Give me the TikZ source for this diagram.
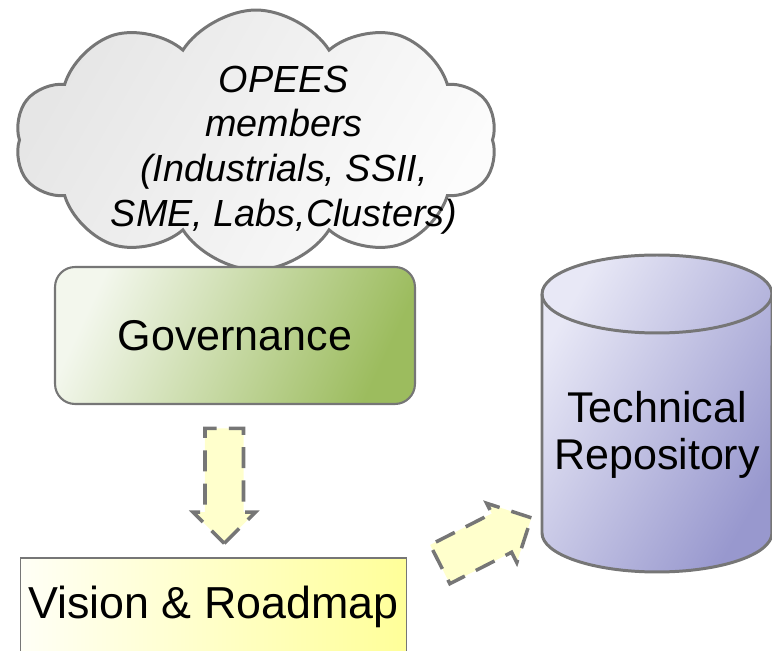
\documentclass[tikz,border=0pt]{standalone}
\usepackage{fontspec}
\setmainfont{Liberation Sans}
\usetikzlibrary{shapes.symbols,shapes.arrows,calc}

\definecolor{edgegrey}{HTML}{767676}
\definecolor{cloudlow}{HTML}{E6E6E6}
\definecolor{cloudhigh}{HTML}{FCFCFC}
\definecolor{govlight}{HTML}{F3F7ED}
\definecolor{govdark}{HTML}{9CBC5E}
\definecolor{visionlight}{HTML}{FFFFF6}
\definecolor{visiondark}{HTML}{FFFF99}
\definecolor{repolight}{HTML}{E8E8F6}
\definecolor{repodark}{HTML}{9898CE}
\definecolor{arrowfill}{HTML}{FFFFCC}

\tikzset{
  bigtext/.style={font=\fontsize{24.5}{27}\selectfont},
  blockarrow/.style={single arrow, draw=edgegrey, fill=arrowfill,
    line width=2pt, dash pattern=on 12pt off 7pt, inner xsep=0pt}
}

\begin{document}
\begin{tikzpicture}[x=0.02cm,y=-0.02cm]
   \useasboundingbox (0,0) rectangle (772,651);

   % members cloud
   \node[cloud, cloud puffs=10, cloud puff arc=115, aspect=1.85,
         minimum width=9.64cm, minimum height=5.2cm,
         draw=edgegrey, line width=1.7pt,
         left color=cloudlow, right color=cloudhigh, shading angle=60] (cloud) at (256,140) {};
   \node[align=center, font=\fontsize{21.5}{25.5}\selectfont\itshape] (members) at (284,150)
        {OPEES\\members\\(Industrials, SSII,\\SME, Labs,Clusters)};

   % boxes
   \node[bigtext, draw=edgegrey, line width=1.2pt, rounded corners=0.4cm,
         minimum width=7.2cm, minimum height=2.74cm,
         left color=govlight, right color=govdark, shading angle=65] (gov) at (235,335.5) {Governance};
   \node[font=\fontsize{25.5}{28}\selectfont, draw=edgegrey, line width=0.6pt,
         minimum width=7.74cm, minimum height=1.96cm,
         left color=visionlight, right color=visiondark, shading angle=90] (vision) at (213.5,607) {Vision \& Roadmap};

   % repository
   \coordinate (repo) at (657,413.5);
   \path[draw=edgegrey, line width=1.7pt, left color=repolight, right color=repodark, shading angle=60]
        (542,294) -- (542,533) arc[start angle=180, end angle=360, x radius=2.3cm, y radius=0.78cm]
        -- (772,294) arc[start angle=0, end angle=180, x radius=2.3cm, y radius=0.78cm] -- cycle;
   \draw[edgegrey, line width=1.7pt]
        (542,294) arc[start angle=180, end angle=360, x radius=2.3cm, y radius=0.78cm];
   \node[bigtext, align=center] (repotext) at (657,435) {Technical\\Repository};

   % block arrows
   \node[blockarrow, rotate=-90, inner ysep=0.35cm, single arrow head extend=0.24cm,
         minimum height=2.3cm] (down) at ($(gov.south)!0.5!(vision.north)+(0,-5)$) {};
   \node[blockarrow, rotate=27, inner ysep=0.4cm, single arrow head extend=0.23cm,
         minimum height=2.05cm] (diag) at (476,546) {};
\end{tikzpicture}
\end{document}
